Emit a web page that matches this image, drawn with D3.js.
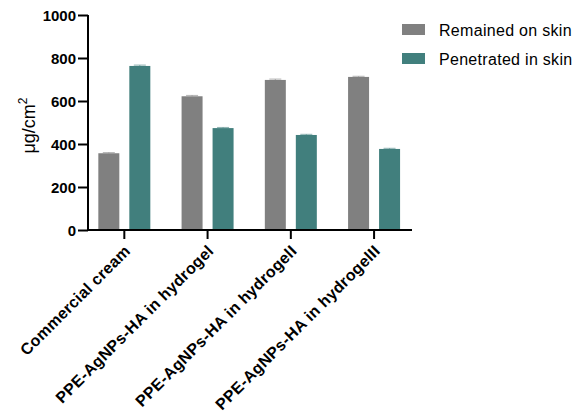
<!DOCTYPE html>
<html>
<head>
<meta charset="utf-8">
<script src="https://cdn.jsdelivr.net/npm/d3@7"></script>
<style>
  html, body { margin: 0; padding: 0; background: #fff; }
  svg { display: block; }
</style>
</head>
<body>
<svg id="chart" width="579" height="412"></svg>
<script>
// Formulations tested
const categories = [
  "Commercial cream",
  "PPE-AgNPs-HA in hydrogel",
  "PPE-AgNPs-HA in hydrogelI",
  "PPE-AgNPs-HA in hydrogelII"
];
const seriesNames = ["Remained on skin", "Penetrated in skin"];
const remained = [357, 622, 698, 712];
const penetrated = [763, 474, 442, 377];
const remainedErr = [3, 4, 4, 3];
const penetratedErr = [4, 3, 3, 3];
const yTicks = [0, 200, 400, 600, 800, 1000];
const colors = ["#808080", "#417f7d"];

const svg = d3.select("#chart");
const font = "Arial, 'Liberation Sans', Helvetica, sans-serif";

const x = d3.scaleBand().domain(categories).range([82.7, 415.7]).paddingInner(0).paddingOuter(0);
const y = d3.scaleLinear().domain([0, 1000]).range([230, 15]);
const sub = d3.scaleOrdinal().domain(seriesNames).range([-15.5, 15.5]);
const barW = 21;

const series = [
  { name: seriesNames[0], values: remained, err: remainedErr, color: colors[0] },
  { name: seriesNames[1], values: penetrated, err: penetratedErr, color: colors[1] }
];

// Bars with small error caps
series.forEach(s => {
  const g = svg.append("g");
  categories.forEach((c, i) => {
    const cx = x(c) + x.bandwidth() / 2 + sub(s.name);
    const v = s.values[i];
    g.append("rect")
      .attr("x", cx - barW / 2)
      .attr("y", y(v))
      .attr("width", barW)
      .attr("height", y(0) - y(v))
      .attr("fill", s.color);
    g.append("line")
      .attr("x1", cx - 6).attr("x2", cx + 6)
      .attr("y1", y(v + s.err[i])).attr("y2", y(v + s.err[i]))
      .attr("stroke", s.color).attr("stroke-opacity", 0.6).attr("stroke-width", 1);
    g.append("line")
      .attr("x1", cx).attr("x2", cx)
      .attr("y1", y(v)).attr("y2", y(v + s.err[i]))
      .attr("stroke", s.color).attr("stroke-opacity", 0.6).attr("stroke-width", 1);
  });
});

// Y axis
const yAxis = svg.append("g")
  .attr("transform", "translate(88,0)")
  .call(d3.axisLeft(y).tickValues(yTicks).tickSize(10).tickPadding(2).tickFormat(d3.format("d")));
yAxis.select(".domain").attr("stroke", "#000").attr("stroke-width", 2).attr("d", `M0,${y(1000)}V${y(0)}`);
yAxis.selectAll(".tick line").attr("stroke", "#000").attr("stroke-width", 2);
yAxis.selectAll(".tick text")
  .attr("font-family", font).attr("font-size", 15).attr("font-weight", "bold").attr("fill", "#000")
  .attr("dy", "0.36em");

// X axis
const xAxis = svg.append("g")
  .attr("transform", `translate(0,${y(0)})`)
  .call(d3.axisBottom(x).tickSize(9).tickPadding(4));
xAxis.select(".domain").attr("stroke", "#000").attr("stroke-width", 2).attr("d", "M87,0H412");
xAxis.selectAll(".tick line").attr("stroke", "#000").attr("stroke-width", 2);
xAxis.selectAll(".tick text")
  .attr("font-family", font).attr("font-size", 16).attr("font-weight", "bold").attr("fill", "#000")
  .attr("letter-spacing", "0.3px")
  .attr("text-anchor", "end")
  .attr("dy", "0.35em")
  .attr("transform", "translate(3,18) rotate(-45)")
  .attr("y", 0).attr("x", 0);

// Y axis title
const yt = svg.append("text")
  .attr("transform", `translate(35,${(y(0) + y(1000)) / 2 + 3}) rotate(-90)`)
  .attr("text-anchor", "middle")
  .attr("font-family", font).attr("font-size", 18).attr("fill", "#000");
yt.append("tspan").text("μg/cm");
yt.append("tspan").attr("dy", -8).attr("font-size", 12).text("2");

// Legend
const legend = svg.append("g").attr("transform", "translate(402,24)");
series.forEach((s, i) => {
  const row = legend.append("g").attr("transform", `translate(0,${i * 29})`);
  row.append("rect").attr("width", 23).attr("height", 11).attr("fill", s.color);
  row.append("text")
    .attr("x", 37).attr("y", 11.5)
    .attr("font-family", font).attr("font-size", 16).attr("fill", "#000")
    .attr("letter-spacing", "0.3px")
    .text(s.name);
});
</script>
</body>
</html>
